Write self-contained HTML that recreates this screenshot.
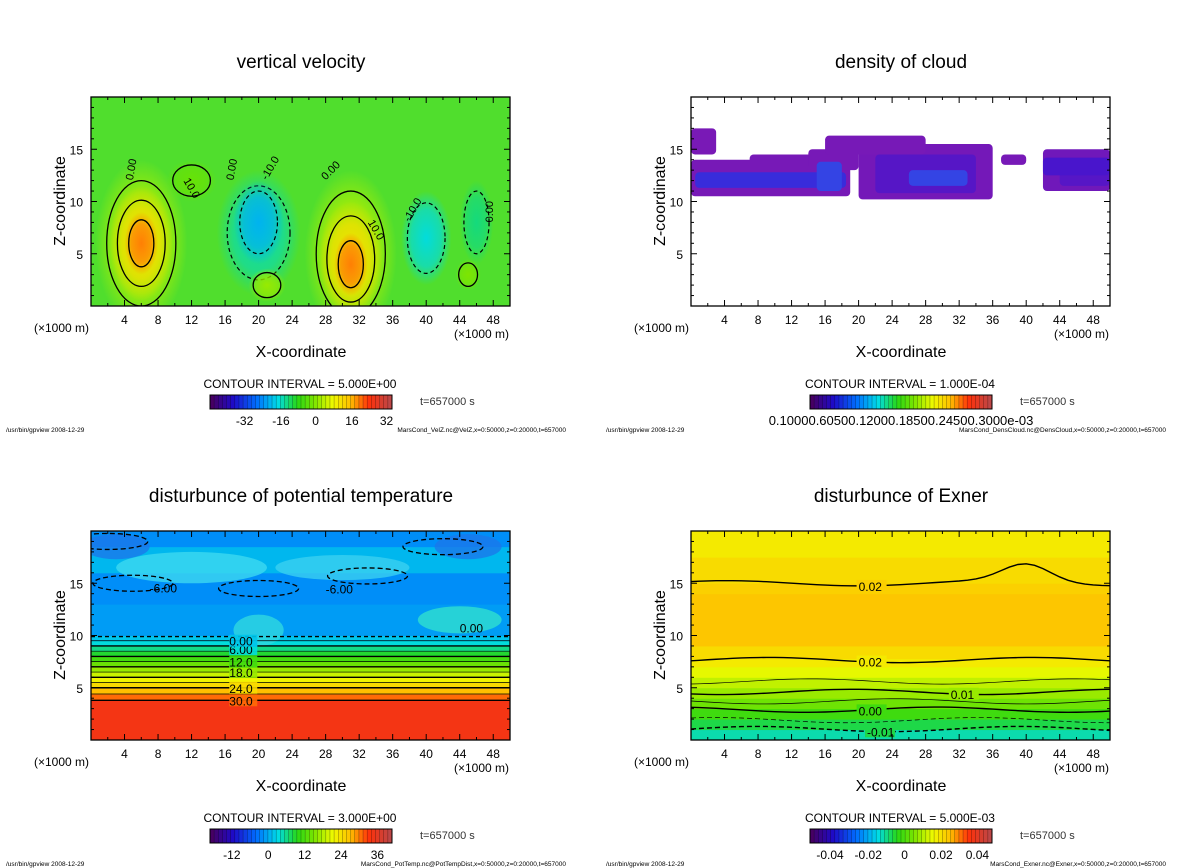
<!DOCTYPE html>
<html><head><meta charset="utf-8">
<style>
html,body{margin:0;padding:0;background:#fff;}
svg{display:block;font-family:"Liberation Sans","DejaVu Sans",sans-serif;}
</style></head>
<body>
<svg id="fig" width="1200" height="868" viewBox="0 0 1200 868" xmlns="http://www.w3.org/2000/svg"></svg>
<script>
// ---------- data ----------
const xTickLabels = [4,8,12,16,20,24,28,32,36,40,44,48];
const zTickLabels = [5,10,15];
const titles = ["vertical velocity","density of cloud","disturbunce of potential temperature","disturbunce of Exner"];
const intervals = ["CONTOUR INTERVAL = 5.000E+00","CONTOUR INTERVAL = 1.000E-04","CONTOUR INTERVAL = 3.000E+00","CONTOUR INTERVAL = 5.000E-03"];
const footFiles = ["MarsCond_VelZ.nc@VelZ,x=0:50000,z=0:20000,t=657000","MarsCond_DensCloud.nc@DensCloud,x=0:50000,z=0:20000,t=657000","MarsCond_PotTemp.nc@PotTempDist,x=0:50000,z=0:20000,t=657000","MarsCond_Exner.nc@Exner,x=0:50000,z=0:20000,t=657000"];
const cbLabels = [["-32","-16","0","16","32"],["0.10000.60500.12000.18500.24500.3000e-03"],["-12","0","12","24","36"],["-0.04","-0.02","0","0.02","0.04"]];
const cbLabelFrac = [[0.19,0.39,0.58,0.78,0.97],[0.5],[0.12,0.32,0.52,0.72,0.92],[0.11,0.32,0.52,0.72,0.92]];
// panel 1 velocity blobs: x(km), z(km), rx, rz, value
const velX = [6,6,6,31,31,31,20,20,40,46,21,45,12];
const velZ = [6,6,6,5,4.5,4,7,8,6.5,8,2,3,12];
const velRx= [5.5,3.8,2,5.5,3.8,2,5,3,3,2,2.2,1.5,3];
const velRz= [8,5.5,3,8,5.5,3,6,4,4.5,4,1.6,1.5,2];
const velV = [10,18,26,10,18,26,-8,-14,-10,-6,8,6,4];
// panel 2 cloud pieces: x0,x1,z0,z1,value(0..1)
const cloudX0=[0,0,7,14,20,16,22,37,42,44,0.5,15,42,26];
const cloudX1=[19,3,15,20,36,28,34,40,50,50,18.5,18,50,33];
const cloudZ0=[10.5,14.5,12,13,10.2,14.5,10.8,13.5,11,11.5,11.3,11,12.5,11.5];
const cloudZ1=[14,17,14.5,15,15.5,16.3,14.5,14.5,15,14,12.8,13.8,14.2,13];
const cloudV =[0.05,0.03,0.05,0.05,0.07,0.05,0.3,0.05,0.1,0.3,0.6,0.7,0.4,0.7];
// panel 3 potential temperature profile
const ptZ=[0,3.8,4.4,5.0,5.5,6.0,6.5,7.0,7.5,8.0,8.5,9.0,9.5,10,13,16,18.5];
const ptV=[33,29,25,22,19,16,13,10,7,4,1,-2,-4,-7,-8,-5,-8];
const ptLineZ=[3.8,4.4,5.0,5.5,6.0,6.5,7.0,7.5,8.0,8.5,9.0,9.5,9.9];
// panel 4 exner profile
const exZ=[0,1,2,3,4,5,6,7,7.8,9,14,15,17.5];
const exV=[-0.018,-0.012,-0.006,0.0,0.005,0.009,0.013,0.017,0.02,0.024,0.022,0.02,0.017];
const exLineZ=[1.05,1.9,2.9,3.7,4.6,5.6,7.65,15.0];
const exLineLab=["-0.01","","0.00","","0.01","","0.02","0.02"];
const exLineLabX=[21,0,20,0,31,0,20,20];
// ---------- helpers ----------
const NS="http://www.w3.org/2000/svg";
const svg=document.getElementById('fig');
function el(tag,attrs,parent){const e=document.createElementNS(NS,tag);for(const k in attrs)e.setAttribute(k,attrs[k]);(parent||svg).appendChild(e);return e;}
const stops=[[0,[70,0,100]],[0.12,[30,10,200]],[0.25,[0,110,255]],[0.37,[0,220,230]],[0.48,[40,215,20]],[0.58,[130,230,0]],[0.68,[240,250,0]],[0.78,[255,190,0]],[0.88,[255,50,10]],[1,[190,70,70]]];
function cmap(t){t=Math.max(0,Math.min(1,t));for(let i=1;i<stops.length;i++){if(t<=stops[i][0]){const a=stops[i-1],b=stops[i],f=(t-a[0])/(b[0]-a[0]);const c=a[1].map((v,j)=>Math.round(v+(b[1][j]-v)*f));return `rgb(${c[0]},${c[1]},${c[2]})`;}}return 'rgb(190,70,70)';}
function cloudCol(v){const a=[125,25,180],b=[60,20,210],c=[40,140,255];let t=v*2;if(t<1){return `rgb(${a.map((x,j)=>Math.round(x+(b[j]-x)*t)).join(',')})`;}t=Math.min(1,t-1);return `rgb(${b.map((x,j)=>Math.round(x+(c[j]-x)*t)).join(',')})`;}
const panels=[{x:91,y:97},{x:691,y:97},{x:91,y:531},{x:691,y:531}];
const PW=419,PH=209;
function mk(p){return {px:x=>p.x+x*PW/50, pz:z=>p.y+PH-z*PH/20};}
const defs=el('defs',{});
panels.forEach((p,i)=>{const c=el('clipPath',{id:'clip'+i},defs);el('rect',{x:p.x,y:p.y,width:PW,height:PH},c);});

// ---------- panel 1 ----------
(function(){const p=panels[0],s=mk(p);const g=el('g',{'clip-path':'url(#clip0)'});

const norm=v=>(v+40)/80;
el('rect',{x:p.x,y:p.y,width:PW,height:PH,fill:'rgb(80,222,45)'},g);
velV.forEach((v,i)=>{const id='vg'+i;const rg=el('radialGradient',{id},defs);
el('stop',{offset:'0','stop-color':cmap(norm(v)),'stop-opacity':'1'},rg);
el('stop',{offset:'0.6','stop-color':cmap(norm(v)),'stop-opacity':'0.7'},rg);
el('stop',{offset:'1','stop-color':cmap(norm(v)),'stop-opacity':'0'},rg);
const e=el('ellipse',{cx:s.px(velX[i]),cy:s.pz(velZ[i]),rx:velRx[i]*PW/50,ry:velRz[i]*PH/20,fill:`url(#${id})`},g);

const c=el('ellipse',{cx:s.px(velX[i]),cy:s.pz(velZ[i]),rx:velRx[i]*PW/50*0.75,ry:velRz[i]*PH/20*0.75,fill:'none',stroke:'#000','stroke-width':v>0?1.3:1.2,'stroke-dasharray':v<0?'4,3':'none'},g);
});
[[5,'0.00',-80],[11,'10.0',60],[17,'0.00',-80],[28,'0.00',-45],[33,'10.0',60],[21,'-10.0',-60],[38,'-10.0',-60],[48,'0.00',-90]].forEach(l=>{
const t=el('text',{x:s.px(l[0]),y:s.pz(l[0]>30?8:12),'font-size':11,transform:`rotate(${l[2]} ${s.px(l[0])} ${s.pz(l[0]>30?8:12)})`},g);t.textContent=l[1];
});
})();

// ---------- panel 2 ----------
(function(){const p=panels[1],s=mk(p);const g=el('g',{'clip-path':'url(#clip1)'});

cloudV.forEach((v,i)=>{const r=el('rect',{x:s.px(cloudX0[i]),y:s.pz(cloudZ1[i]),width:s.px(cloudX1[i])-s.px(cloudX0[i]),height:s.pz(cloudZ0[i])-s.pz(cloudZ1[i]),rx:4,fill:cloudCol(v)},g);
});
})();

// ---------- panel 3 ----------
(function(){const p=panels[2],s=mk(p);const g=el('g',{'clip-path':'url(#clip2)'});

const norm=v=>0.3+(v+7)*0.015;
ptZ.forEach((z,i)=>{const top=i+1<ptZ.length?ptZ[i+1]:20;
const r=el('rect',{x:p.x,y:s.pz(top),width:PW,height:s.pz(z)-s.pz(top)+0.5,fill:cmap(norm(ptV[i]))},g);
});
[[12,16.5,9,1.5,'#3cd8f0'],[30,16.5,8,1.2,'#3ad0f0'],[44,11.5,5,1.3,'#30e0d0'],[20,10.5,3,1.5,'#30d8e0'],[3,18.5,4,1.2,'#1a78ea'],[45,18.5,4,1.2,'#1a78ea']].forEach(b=>{
const e=el('ellipse',{cx:s.px(b[0]),cy:s.pz(b[1]),rx:b[2]*PW/50,ry:b[3]*PH/20,fill:b[4],opacity:0.8},g);
});
ptLineZ.forEach((z,i)=>{const l=el('line',{x1:p.x,x2:p.x+PW,y1:s.pz(z),y2:s.pz(z),stroke:'#000','stroke-width':i%2?0.7:1.4,'stroke-dasharray':i==ptLineZ.length-1?'4,3':'none'},g);
});
[[7,14.1,'-6.00'],[28,14.0,'-6.00'],[44,10.3,'0.00']].forEach(l=>{const t=el('text',{x:s.px(l[0]),y:s.pz(l[1]),'font-size':12},g);t.textContent=l[2];
});
[[3.8,'30.0'],[5.0,'24.0'],[6.5,'18.0'],[7.5,'12.0'],[8.7,'6.00'],[9.5,'0.00']].forEach(l=>{
el('rect',{x:s.px(16.5),y:s.pz(l[0])-6,width:28,height:12,fill:cmap(norm(ptV[ptZ.findIndex(z=>z>=l[0])]||0)),opacity:0.9},g);
const t=el('text',{x:s.px(16.5),y:s.pz(l[0])+5,'font-size':12},g);t.textContent=l[1];
});
[[5,15],[20,14.5],[33,15.7],[42,18.5],[2,19]].forEach(d=>{const e=el('ellipse',{cx:s.px(d[0]),cy:s.pz(d[1]),rx:40,ry:8,fill:'none',stroke:'#000','stroke-width':1.3,'stroke-dasharray':'5,3'},g);
});
})();

// ---------- panel 4 ----------
(function(){const p=panels[3],s=mk(p);const g=el('g',{'clip-path':'url(#clip3)'});

const norm=v=>0.4+(v+0.018)*8.75;
exZ.forEach((z,i)=>{const top=i+1<exZ.length?exZ[i+1]:20;
const r=el('rect',{x:p.x,y:s.pz(top),width:PW,height:s.pz(z)-s.pz(top)+0.5,fill:cmap(norm(exV[i]))},g);
});
exLineZ.forEach((z,i)=>{let d='';for(let x=0;x<=50;x+=1){let zz=z+0.25*Math.sin(x/5+i);if(i==7)zz+=1.7*Math.exp(-Math.pow((x-40)/4,2));d+=(x?'L':'M')+s.px(x)+','+s.pz(zz);}
const l=el('path',{d,fill:'none',stroke:'#000','stroke-width':exLineLab[i]?1.4:0.7,'stroke-dasharray':z<2.5?'5,3':'none'},g);

if(exLineLab[i]){const zz=z+0.25*Math.sin(exLineLabX[i]/5+i);
el('rect',{x:s.px(exLineLabX[i])-2,y:s.pz(zz)-6,width:30,height:12,fill:cmap(norm(exV[exZ.findIndex(q=>q>=z)-1]||0))},g);
const t=el('text',{x:s.px(exLineLabX[i]),y:s.pz(zz)+5,'font-size':12},g);t.textContent=exLineLab[i];
}});
})();

// ---------- axes, titles, colorbars ----------
panels.forEach((p,i)=>{const s=mk(p);
const frame=el('rect',{x:p.x,y:p.y,width:PW,height:PH,fill:'none',stroke:'#000','stroke-width':1.3});

for(let x=2;x<50;x+=2){const L=x%4==0?6:3;el('line',{x1:s.px(x),x2:s.px(x),y1:p.y,y2:p.y+L,stroke:'#000'});el('line',{x1:s.px(x),x2:s.px(x),y1:p.y+PH,y2:p.y+PH-L,stroke:'#000'});}
for(let z=1;z<20;z++){const L=z%5==0?6:3;el('line',{x1:p.x,x2:p.x+L,y1:s.pz(z),y2:s.pz(z),stroke:'#000'});el('line',{x1:p.x+PW,x2:p.x+PW-L,y1:s.pz(z),y2:s.pz(z),stroke:'#000'});}
xTickLabels.forEach(v=>{const t=el('text',{x:s.px(v),y:p.y+PH+18,'font-size':12,'text-anchor':'middle'});t.textContent=v;
});
zTickLabels.forEach(v=>{const t=el('text',{x:p.x-8,y:s.pz(v)+5,'font-size':12,'text-anchor':'end'});t.textContent=v;
});
let t=el('text',{x:p.x-57,y:p.y+PH+26,'font-size':12});t.textContent='(\u00d71000 m)';
t=el('text',{x:p.x+363,y:p.y+PH+32,'font-size':12});t.textContent='(\u00d71000 m)';
t=el('text',{x:p.x+210,y:p.y+PH+51,'font-size':16,'text-anchor':'middle'});t.textContent='X-coordinate';
t=el('text',{x:p.x-26,y:p.y+104,'font-size':16,'text-anchor':'middle',transform:`rotate(-90 ${p.x-26} ${p.y+104})`});t.textContent='Z-coordinate';
t=el('text',{x:p.x+210,y:p.y-29,'font-size':19,'text-anchor':'middle'});t.textContent=titles[i];
t=el('text',{x:p.x+209,y:p.y+PH+82,'font-size':12,'text-anchor':'middle'});t.textContent=intervals[i];
const cbx=p.x+119,cby=p.y+PH+89,cbw=182,cbh=14;
const cb=el('g',{});
const n=44;for(let k=0;k<n;k++){el('rect',{x:cbx+k*cbw/n,y:cby,width:cbw/n+0.3,height:cbh,fill:cmap(k/(n-1))},cb);el('line',{x1:cbx+k*cbw/n,x2:cbx+k*cbw/n,y1:cby,y2:cby+cbh,stroke:'#000','stroke-width':0.4,opacity:0.6},cb);}
el('rect',{x:cbx,y:cby,width:cbw,height:cbh,fill:'none',stroke:'#000'},cb);
cbLabels[i].forEach((l,k)=>{const tt=el('text',{x:cbx+cbLabelFrac[i][k]*cbw,y:cby+30,'font-size':i==1?13:12,'text-anchor':'middle'});tt.textContent=l;
});
t=el('text',{x:p.x+329,y:cby+10,'font-size':11,fill:'#333'});t.textContent='t=657000 s';
t=el('text',{x:p.x-85,y:p.y+PH+126,'font-size':6.5});t.textContent='/usr/bin/gpview   2008-12-29';
t=el('text',{x:p.x+475,y:p.y+PH+126,'font-size':6.5,'text-anchor':'end'});t.textContent=footFiles[i];
});
</script>
</body></html>
